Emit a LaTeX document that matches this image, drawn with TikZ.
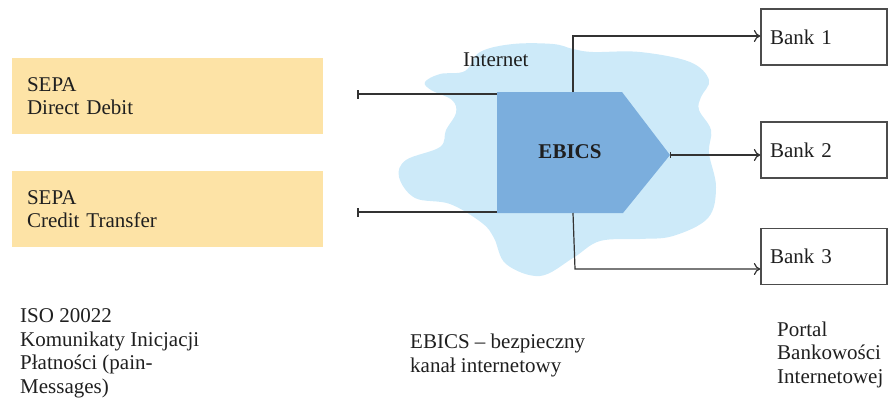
\documentclass[tikz,border=0pt]{standalone}
\usepackage{fontspec}
\setmainfont{Liberation Serif}
\usetikzlibrary{arrows.meta}
\definecolor{sepa}{HTML}{FDE3A6}
\definecolor{cloudc}{HTML}{CDEAF9}
\definecolor{ebicsc}{HTML}{7BAEDD}
\definecolor{linec}{HTML}{333333}
\tikzset{
  txt/.style={font=\fontsize{21}{23.5}\selectfont, inner sep=0pt, align=left, text=black!88},
  sepabox/.style={fill=sepa, minimum width=311pt, minimum height=76pt, text width=281pt, inner xsep=15pt, inner ysep=0pt, align=left, font=\fontsize{21}{23.5}\selectfont, text=black!88},
  bankbox/.style={draw=black!70, line width=1.3pt, fill=white, minimum width=126pt, minimum height=56pt, text width=108pt, inner xsep=9pt, inner ysep=0pt, align=left, font=\fontsize{21}{23.5}\selectfont, text=black!88},
  conn/.style={draw=linec, line width=1.2pt},
  barstart/.style={conn, arrows={Bar[width=9pt,line width=2.2pt]-}},
  toarrow/.style={conn, arrows={-To[length=6.5pt,width=12pt,line width=1.2pt]}},
}
\begin{document}
\begin{tikzpicture}[x=1pt,y=-1pt]
\useasboundingbox (0,0) rectangle (890,399);
% cloud
\fill[cloudc] plot[smooth cycle, tension=0.6] coordinates {
(425,82) (440,74) (465,71) (480,52) (513,44) (553,44) (573,49) (593,52)
(640,52) (690,62) (709,80) (701,97) (699,110) (711,130) (709,153)
(716,187) (708,218) (673,236) (640,239) (600,241) (573,258) (540,276)
(506,264) (494,238) (482,223) (450,204) (415,198) (399,177) (406,160)
(440,147) (446,130) (456,113) (452,100) (431,90)};
\node[txt, anchor=base west] (inet) at (463,66) {Internet};
% EBICS pentagon
\fill[ebicsc] (497,92) -- (622,92) -- (670,155) -- (623,213) -- (497,213) -- cycle;
\node[font=\fontsize{21}{23.5}\selectfont\bfseries, text=black!88] (ebics) at (570,152) {EBICS};
\coordinate (eL1) at (497,94);
\coordinate (eL2) at (497,212);
\coordinate (eTop) at (573,92);
\coordinate (eTip) at (670,155);
\coordinate (eBot) at (573,213);
% SEPA boxes
\node[sepabox] (dd) at (167.5,96) {SEPA\\Direct Debit};
\node[sepabox] (ct) at (167.5,209) {SEPA\\Credit Transfer};
% banks
\node[bankbox] (bank1) at (824,37) {Bank 1};
\node[bankbox] (bank2) at (824,150) {Bank 2};
\node[bankbox] (bank3) at (824,256.5) {Bank 3};
% connectors
\coordinate (bar1) at (357,94);
\coordinate (bar2) at (357,212);
\draw[barstart] (bar1) -- (eL1);
\draw[barstart] (bar2) -- (eL2);
\draw[toarrow] (eTop) -- (573,36) coordinate (c1) -- (c1 -| bank1.west);
\draw[conn, arrows={Bar[width=6pt,line width=1pt]-To[length=6.5pt,width=12pt,line width=1.2pt]}] (eTip) -- (eTip -| bank2.west);
\draw[toarrow] (eBot) -- (575,269) coordinate (c3) -- (c3 -| bank3.west);
% captions (base anchor = last line)
\node[txt, anchor=base west] (iso) at (20,393) {ISO 20022\\Komunikaty Inicjacji\\Płatności (pain-\\Messages)};
\node[txt, anchor=base west] (chan) at (410,372) {EBICS – bezpieczny\\kanał internetowy};
\node[txt, anchor=base west] (portal) at (777,383) {Portal\\Bankowości\\Internetowej};
\end{tikzpicture}
\end{document}
